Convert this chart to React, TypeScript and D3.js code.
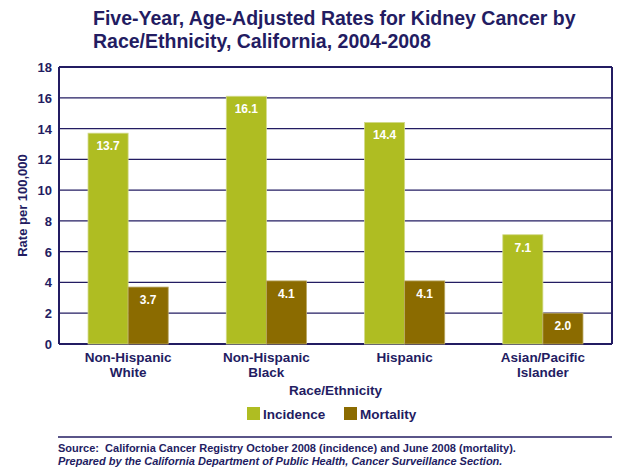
import React from 'react';
import * as d3 from 'd3';

const categories = ['Non-Hispanic|White', 'Non-Hispanic|Black', 'Hispanic', 'Asian/Pacific|Islander'];
const series = ['Incidence', 'Mortality'];
const incidence = [13.7, 16.1, 14.4, 7.1];
const mortality = [3.7, 4.1, 4.1, 2.0];
const yTicks = [0, 2, 4, 6, 8, 10, 12, 14, 16, 18];

const NAVY = '#231c62';
const colors = ['#afbd22', '#8b6b00'];
const FONT = 'Liberation Sans, Arial, sans-serif';

const App = () => {
  const width = 618;
  const height = 469;
  const margin = { top: 67, right: 6, bottom: 125, left: 59 };
  const innerW = width - margin.left - margin.right;
  const innerH = height - margin.top - margin.bottom;

  const x = d3.scaleBand().domain(categories).range([0, innerW]).paddingInner(0.42).paddingOuter(0.21);
  const xs = d3.scaleBand().domain(series).range([0, x.bandwidth()]);
  const y = d3.scaleLinear().domain([0, 18]).range([innerH, 0]);
  const values = [incidence, mortality];

  return (
    <svg width={width} height={height} style={{ position: 'absolute', left: 0, top: 0, fontFamily: FONT }}>
      <rect width={width} height={height} fill="#fff" />
      <text x={93} y={25} fontSize={19.5} fontWeight="bold" fill={NAVY}>
        Five-Year, Age-Adjusted Rates for Kidney Cancer by
      </text>
      <text x={93} y={48} fontSize={19.5} fontWeight="bold" fill={NAVY}>
        Race/Ethnicity, California, 2004-2008
      </text>
      <g transform={`translate(${margin.left},${margin.top})`}>
        {yTicks.map((t) => (
          <g key={t}>
            <line x1={0} x2={innerW} y1={y(t)} y2={y(t)} stroke={NAVY} strokeWidth={t === 0 || t === 18 ? 2 : 1.3} />
            <text x={-7} y={y(t) + 5} textAnchor="end" fontSize={13} fontWeight="bold" fill={NAVY}>
              {t}
            </text>
          </g>
        ))}
        <line x1={0} x2={0} y1={0} y2={innerH} stroke={NAVY} strokeWidth={2} />
        <line x1={innerW} x2={innerW} y1={0} y2={innerH} stroke={NAVY} strokeWidth={2} />
        {categories.map((c, i) => (
          <g key={c} transform={`translate(${x(c)},0)`}>
            {series.map((s, j) => {
              const v = values[j][i];
              const bx = xs(s) as number;
              return (
                <g key={s}>
                  <rect x={bx} y={y(v)} width={xs.bandwidth()} height={innerH - y(v)} fill={colors[j]} stroke={j === 0 ? '#d3da8a' : '#b9a763'} strokeWidth={0.8} />
                  <text x={bx + xs.bandwidth() / 2} y={y(v) + 17} textAnchor="middle" fontSize={12} fontWeight="bold" fill="#fff">
                    {v.toFixed(1)}
                  </text>
                </g>
              );
            })}
            {c.split('|').map((part, k) => (
              <text key={k} x={x.bandwidth() / 2} y={innerH + 18 + k * 14.5} textAnchor="middle" fontSize={13.5} fontWeight="bold" fill={NAVY}>
                {part}
              </text>
            ))}
          </g>
        ))}
        <text x={innerW / 2} y={innerH + 51} textAnchor="middle" fontSize={13.5} fontWeight="bold" fill={NAVY}>
          Race/Ethnicity
        </text>
        <text transform={`translate(-32,${innerH / 2}) rotate(-90)`} textAnchor="middle" fontSize={13} fontWeight="bold" fill={NAVY}>
          Rate per 100,000
        </text>
      </g>
      {series.map((s, j) => (
        <g key={s} transform={`translate(${247 + j * 97},407)`}>
          <rect x={0} y={0} width={13} height={13} fill={colors[j]} />
          <text x={16} y={12} fontSize={13.5} fontWeight="bold" fill={NAVY}>
            {s}
          </text>
        </g>
      ))}
      <line x1={58} x2={612} y1={437} y2={437} stroke={NAVY} strokeWidth={1.5} />
      <text x={58} y={452} fontSize={11} fontWeight="bold" fill={NAVY} style={{ whiteSpace: 'pre' }}>
        {'Source:  California Cancer Registry October 2008 (incidence) and June 2008 (mortality).'}
      </text>
      <text x={58} y={465} fontSize={11} fontWeight="bold" fontStyle="italic" fill={NAVY}>
        Prepared by the California Department of Public Health, Cancer Surveillance Section.
      </text>
    </svg>
  );
};

export default App;
